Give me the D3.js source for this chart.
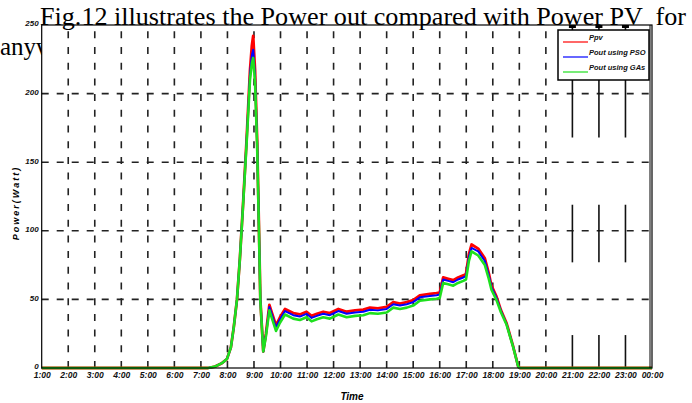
<!DOCTYPE html>
<html>
<head>
<meta charset="utf-8">
<script src="https://cdn.jsdelivr.net/npm/d3@7/dist/d3.min.js"></script>
<style>
  body { margin: 0; background: #fff; }
  svg { display: block; }
</style>
</head>
<body>
<script>
// time of day (hours, 1 = 1:00 ... 24 = 00:00)
var hours = [1, 7.27, 7.53, 7.79, 7.98, 8.13, 8.24, 8.36, 8.47, 8.59, 8.72, 8.85, 8.92, 8.97, 9.04,
    9.12, 9.19, 9.24, 9.35, 9.45, 9.58, 9.68, 9.83, 9.98, 10.17, 10.48, 10.73, 10.98, 11.17, 11.37,
    11.61, 11.86, 12.18, 12.49, 12.81, 13.12, 13.37, 13.67, 14.0, 14.25, 14.5, 14.76, 15.0, 15.25,
    15.63, 15.88, 16.0, 16.13, 16.32, 16.51, 16.69, 16.89, 16.99, 17.1, 17.2, 17.45, 17.7, 17.85,
    17.95, 18.14, 18.31, 18.52, 18.77, 18.96, 19.02, 24];

var ppv = [0, 0, 1, 3.5, 6.5, 15, 30, 50, 80, 120, 166, 217, 235, 242, 217,
    166, 100, 50, 12, 25, 46, 40, 31, 37, 43, 40, 39, 41, 38, 39.5,
    41, 40, 43, 41, 42, 42.5, 44, 43.5, 44.5, 48, 47, 48, 49.5, 53,
    54, 54.5, 55, 66, 65, 64, 66, 67.5, 68.5, 83, 90, 87, 80, 69,
    60, 52, 42, 32.6, 15.5, 1, 0, 0];

var pso = [0, 0, 1, 3.5, 6.5, 15, 30, 50, 80, 120, 165, 214, 228, 232, 213,
    164, 99, 50, 12, 24, 44.5, 38.5, 29.5, 35.5, 41.5, 38.5, 37.5, 39.5, 36.5, 38,
    39.5, 38.5, 41.5, 39.5, 40.5, 41, 42.5, 42, 43, 46.5, 45.5, 46.5, 48, 51.5,
    52.5, 53, 53.5, 64.5, 63.5, 62.5, 64.5, 66, 67, 81, 87.5, 85, 78, 67.5,
    59, 51, 41.5, 32, 15.3, 1, 0, 0];

var ga = [0, 0, 1, 3.5, 6.5, 15, 30, 50, 80, 119, 163, 210, 222, 226, 208,
    161, 98, 49, 12, 23, 42, 36, 27, 33, 39, 36, 35, 37, 34, 35.5,
    37, 36, 39, 37, 38, 38.5, 40, 39.5, 40.5, 44, 43, 44, 45.5, 49,
    50, 50.5, 51, 62, 61, 60, 62, 63.5, 64.5, 78, 85, 82, 75, 65,
    57, 49.5, 40.5, 31.5, 15, 1, 0, 0];

var timeLabels = ["1:00", "2:00", "3:00", "4:00", "5:00", "6:00", "7:00", "8:00", "9:00", "10:00",
    "11:00", "12:00", "13:00", "14:00", "15:00", "16:00", "17:00", "18:00", "19:00", "20:00",
    "21:00", "22:00", "23:00", "00:00"];
var yTicks = [0, 50, 100, 150, 200, 250];

var seriesNames = ["Ppv", "Pout using PSO", "Pout using GAs"];
var seriesColors = ["#ff0000", "#0000ff", "#1ee01e"];

var W = 692, H = 403;
var plotL = 41.7, plotR = 652, plotT = 25, plotB = 368;

var svg = d3.select("body")
        .append("svg")
        .attr("width", W)
        .attr("height", H);

var x = d3.scaleLinear().domain([1, 24]).range([plotL, plotR]);
var y = d3.scaleLinear().domain([0, 250]).range([plotB, plotT]);

// second caption line, mostly hidden behind the plot
svg.append("text")
    .attr("x", 0)
    .attr("y", 55)
    .attr("font-family", "Liberation Serif")
    .attr("font-size", 25)
    .text("anyway the")
;

// plot background
svg.append("rect")
    .attr("x", plotL)
    .attr("y", plotT)
    .attr("width", plotR - plotL)
    .attr("height", plotB - plotT)
    .attr("fill", "#fff")
;

// horizontal dashed grid
svg.selectAll(".hgrid")
    .data(yTicks.slice(1, -1))
    .enter()
    .append("line")
    .attr("class", "hgrid")
    .attr("x1", plotL)
    .attr("x2", plotR)
    .attr("y1", d => y(d))
    .attr("y2", d => y(d))
    .attr("stroke", "#222")
    .attr("stroke-width", 1.6)
    .attr("stroke-dasharray", "7,8")
;

// vertical dashed grid up to 20:00
svg.selectAll(".vgrid")
    .data(d3.range(2, 21))
    .enter()
    .append("line")
    .attr("class", "vgrid")
    .attr("x1", d => x(d))
    .attr("x2", d => x(d))
    .attr("y1", plotB)
    .attr("y2", plotT)
    .attr("stroke", "#222")
    .attr("stroke-width", 1.6)
    .attr("stroke-dasharray", "7,8.7")
;

// the last few grid lines come out as solid pieces
var pieces = [[168, 250], [77, 119], [0, 24]];
[21, 22, 23].forEach(function (h) {
    svg.selectAll(null)
        .data(pieces)
        .enter()
        .append("line")
        .attr("x1", x(h))
        .attr("x2", x(h))
        .attr("y1", d => y(d[0]))
        .attr("y2", d => y(d[1]))
        .attr("stroke", "#111")
        .attr("stroke-width", 1.6)
    ;
    svg.append("rect")
        .attr("x", x(h) - 3.5)
        .attr("y", plotT)
        .attr("width", 7)
        .attr("height", 3)
        .attr("fill", "#000")
    ;
});

// series
var line = d3.line()
    .x((d, i) => x(hours[i]))
    .y(d => y(d));

var widths = [2.8, 2, 2.6];
[ppv, pso, ga].forEach(function (s, i) {
    svg.append("path")
        .datum(s)
        .attr("d", line)
        .attr("fill", "none")
        .attr("stroke", seriesColors[i])
        .attr("stroke-width", widths[i])
        .attr("stroke-linejoin", "round")
    ;
});

// frame
svg.append("rect")
    .attr("x", plotL)
    .attr("y", plotT)
    .attr("width", plotR - plotL)
    .attr("height", plotB - plotT)
    .attr("fill", "none")
    .attr("stroke", "#000")
    .attr("stroke-width", 1.2)
;
svg.append("line")
    .attr("x1", plotR - 2)
    .attr("x2", plotR - 2)
    .attr("y1", plotT)
    .attr("y2", plotB)
    .attr("stroke", "#000")
    .attr("stroke-width", 1)
;

// axes
var xAxis = svg.append("g")
    .attr("transform", "translate(0," + plotB + ")")
    .call(d3.axisBottom(x)
        .tickValues(d3.range(1, 25))
        .tickFormat((d, i) => timeLabels[i])
        .tickSize(0)
        .tickPadding(4));
xAxis.select(".domain").remove();
xAxis.selectAll("text")
    .attr("font-family", "Liberation Sans")
    .attr("font-weight", "bold")
    .attr("font-style", "italic")
    .attr("font-size", 8.5)
    .attr("fill", "#111")
;

var yAxis = svg.append("g")
    .attr("transform", "translate(" + plotL + ",0)")
    .call(d3.axisLeft(y)
        .tickValues(yTicks)
        .tickSize(0)
        .tickPadding(3));
yAxis.select(".domain").remove();
yAxis.selectAll("text")
    .attr("dy", "0.1em")
    .attr("font-family", "Liberation Sans")
    .attr("font-weight", "bold")
    .attr("font-style", "italic")
    .attr("font-size", 8)
    .attr("fill", "#111")
;

svg.append("text")
    .attr("x", 352)
    .attr("y", 400)
    .attr("text-anchor", "middle")
    .attr("font-family", "Liberation Sans")
    .attr("font-weight", "bold")
    .attr("font-style", "italic")
    .attr("font-size", 10)
    .text("Time")
;

svg.append("text")
    .attr("transform", "translate(19,203) rotate(-90)")
    .attr("text-anchor", "middle")
    .attr("font-family", "Liberation Sans")
    .attr("font-weight", "bold")
    .attr("font-style", "italic")
    .attr("font-size", 9)
    .attr("letter-spacing", 2)
    .text("Power(Watt)")
;

// legend
var legend = svg.append("g");
legend.append("rect")
    .attr("x", 558)
    .attr("y", 30)
    .attr("width", 91)
    .attr("height", 50)
    .attr("fill", "#fff")
    .attr("stroke", "#000")
    .attr("stroke-width", 1.5)
;
legend.selectAll(".item")
    .data(seriesNames)
    .enter()
    .append("line")
    .attr("x1", 563)
    .attr("x2", 588)
    .attr("y1", (d, i) => 42 + i * 15)
    .attr("y2", (d, i) => 42 + i * 15)
    .attr("stroke", (d, i) => seriesColors[i])
    .attr("stroke-width", 1.2)
;
legend.selectAll(".lab")
    .data(seriesNames)
    .enter()
    .append("text")
    .attr("x", 589)
    .attr("y", (d, i) => 40 + i * 15)
    .attr("font-family", "Liberation Sans")
    .attr("font-weight", "bold")
    .attr("font-style", "italic")
    .attr("font-size", 7.5)
    .attr("fill", "#111")
    .text(d => d)
;

// caption that overlaps the figure
svg.append("text")
    .attr("x", 40)
    .attr("y", 25)
    .attr("font-family", "Liberation Serif")
    .attr("font-size", 25)
    .attr("textLength", 646)
    .attr("lengthAdjust", "spacingAndGlyphs")
    .attr("xml:space", "preserve")
    .text("Fig.12 illustrates the Power out compared with Power PV  for")
;
</script>
</body>
</html>
